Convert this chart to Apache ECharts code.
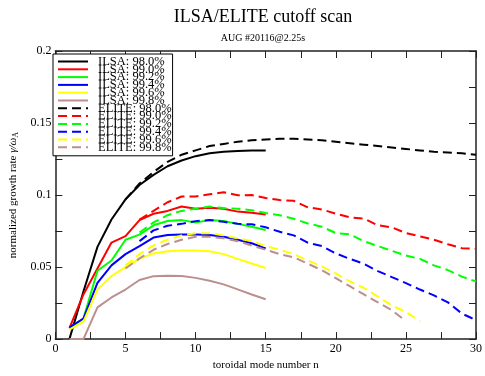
<!DOCTYPE html>
<html><head><meta charset="utf-8">
<script src="https://cdn.jsdelivr.net/npm/echarts@6/dist/echarts.min.js"></script>
<style>html,body{margin:0;padding:0;background:#fff}#c{width:485px;height:376px}</style>
</head><body><div id="c"></div>
<script>
// toroidal mode numbers
var nILSA = [1,2,3,4,5,6,7,8,9,10,11,12,13,14,15];
var nELITE = [5,6,7,8,9,10,11,12,13,14,15,16,17,18,19,20,21,22,23,24,25,26,27,28,29,30];

// ILSA growth rates (n = 1..15)
var ilsa980 = [0.000,0.033,0.064,0.083,0.097,0.107,0.114,0.120,0.124,0.127,0.129,0.130,0.1305,0.131,0.131];
var ilsa990 = [0.0076,0.031,0.049,0.067,0.0715,0.0826,0.087,0.089,0.092,0.0905,0.0912,0.0905,0.0885,0.0877,0.0865];
var ilsa992 = [0.0072,0.0143,0.0474,0.0546,0.069,0.0725,0.079,0.082,0.0826,0.081,0.0826,0.082,0.080,0.078,0.0758];
var ilsa994 = [0.0081,0.0143,0.039,0.0512,0.059,0.0646,0.0705,0.0722,0.0726,0.0726,0.0722,0.071,0.069,0.0665,0.063];
var ilsa996 = [0.0065,0.0121,0.0345,0.0438,0.050,0.0557,0.0595,0.061,0.0615,0.0615,0.061,0.059,0.0557,0.0525,0.0494];
var ilsa998 = [0.000,0.000,0.022,0.0289,0.0344,0.041,0.0437,0.044,0.0438,0.0425,0.0405,0.038,0.0345,0.031,0.0277];

// ELITE growth rates (n = 5..30)
var elite980 = [0.097,0.108,0.116,0.123,0.128,0.131,0.134,0.1355,0.137,0.138,0.1385,0.139,0.139,0.1385,0.138,0.137,0.136,0.135,0.134,0.133,0.132,0.131,0.130,0.1295,0.129,0.128];
var elite990 = [null,0.083,0.089,0.095,0.099,0.099,0.1005,0.102,0.0998,0.100,0.098,0.0965,0.096,0.0915,0.090,0.087,0.0845,0.0837,0.079,0.0776,0.0736,0.0713,0.069,0.0658,0.0631,0.0626];
var elite992 = [null,0.074,0.081,0.086,0.089,0.0905,0.092,0.091,0.0905,0.0895,0.0875,0.086,0.0835,0.0803,0.078,0.0736,0.0727,0.068,0.0646,0.0613,0.058,0.0557,0.0512,0.0479,0.0434,0.040];
var elite994 = [null,0.068,0.0755,0.0787,0.080,0.0819,0.0826,0.0814,0.080,0.0797,0.0776,0.0745,0.072,0.0669,0.0646,0.0595,0.0557,0.0523,0.0472,0.043,0.0389,0.0344,0.0304,0.0255,0.0177,0.0132];
var elite996 = [0.051,0.059,0.065,0.069,0.072,0.0735,0.0735,0.072,0.070,0.068,0.0645,0.062,0.059,0.0546,0.0505,0.0456,0.040,0.0356,0.0295,0.0233,0.0188,0.0125,null,null,null,null];
var elite998 = [0.049,0.056,0.062,0.066,0.069,0.071,0.071,0.070,0.068,0.065,0.062,0.059,0.0568,0.0523,0.0479,0.0423,0.0367,0.0311,0.0255,0.020,0.0125,null,null,null,null,null];

var seriesNames = ['ILSA: 98.0%','ILSA: 99.0%','ILSA: 99.2%','ILSA: 99.4%','ILSA: 99.6%','ILSA: 99.8%',
                   'ELITE: 98.0%','ELITE: 99.0%','ELITE: 99.2%','ELITE: 99.4%','ELITE: 99.6%','ELITE: 99.8%'];
var colors = ['#000000','#ff0000','#00ff00','#0000ff','#ffff00','#bc8f8f'];
var ilsaData = [ilsa980, ilsa990, ilsa992, ilsa994, ilsa996, ilsa998];
var eliteData = [elite980, elite990, elite992, elite994, elite996, elite998];

var FONT = '"Liberation Serif", "DejaVu Serif", serif';

function pairs(xs, ys){ return xs.map(function(x,i){ return [x, ys[i]]; }); }

var series = [];
ilsaData.forEach(function(d,i){
  series.push({name: seriesNames[i], type:'line', data: pairs(nILSA, d), symbol:'none', showSymbol:false,
    connectNulls:false, animation:false, color: colors[i],
    lineStyle:{color: colors[i], width:2, type:'solid'}});
});
eliteData.forEach(function(d,i){
  series.push({name: seriesNames[6+i], type:'line', data: pairs(nELITE, d), symbol:'none', showSymbol:false,
    connectNulls:false, animation:false, color: colors[i],
    lineStyle:{color: colors[i], width:2, type:[9,5]}});
});

var axisLineStyle = {color:'#222', width:1.5};
function xLabel(v){ return (Math.abs(v % 5) < 1e-9) ? String(v) : ''; }
function yLabel(v){ var k = Math.round(v*1000); return (k % 50 === 0) ? String(+(v.toFixed(3))) : ''; }

var chart = echarts.init(document.getElementById('c'), null, {renderer:'canvas'});
chart.setOption({
  animation:false,
  backgroundColor:'#fff',
  title:{
    text:'ILSA/ELITE cutoff scan', subtext:'AUG #20116@2.25s',
    left:258, top:3, textAlign:'center', itemGap:7,
    textStyle:{fontFamily:FONT, fontSize:18, fontWeight:'normal', color:'#000'},
    subtextStyle:{fontFamily:FONT, fontSize:10, color:'#000'}
  },
  legend:{
    data: seriesNames, orient:'vertical', left:53, top:54,
    itemWidth:30, itemHeight:8, itemGap:-5.2,
    padding:[1,1,2,4],
    borderColor:'#000', borderWidth:1, backgroundColor:'#fff',
    selectedMode:false,
    itemStyle:{opacity:0},
    textStyle:{fontFamily:FONT, fontSize:12.5, color:'#000', padding:[0,0,0,5]}
  },
  grid:{left:48, right:7, top:51, bottom:28, containLabel:false},
  xAxis:[{
    type:'value', min:0, max:30, interval:2.5, position:'bottom',
    name:'toroidal mode number n', nameLocation:'middle', nameGap:17,
    nameTextStyle:{fontFamily:FONT, fontSize:11, color:'#000'},
    axisLine:{show:true, onZero:false, lineStyle:axisLineStyle},
    axisTick:{show:true, inside:true, length:7, lineStyle:{color:'#222', width:1}},
    axisLabel:{formatter:xLabel, fontFamily:FONT, fontSize:12, color:'#000', margin:4, showMinLabel:true, showMaxLabel:true},
    splitLine:{show:false}
  },{
    type:'value', min:0, max:30, interval:2.5, position:'top',
    axisLine:{show:true, onZero:false, lineStyle:axisLineStyle},
    axisTick:{show:true, inside:true, length:7, lineStyle:{color:'#222', width:1}},
    axisLabel:{show:false}, splitLine:{show:false}
  }],
  yAxis:[{
    type:'value', min:0, max:0.2, interval:0.025, position:'left',
    name:'normalized growth rate {g|γ/ω}{s|A}', nameLocation:'middle', nameGap:33,
    nameTextStyle:{fontFamily:FONT, fontSize:11, color:'#000',
      rich:{g:{fontFamily:FONT, fontSize:11, fontStyle:'italic', color:'#000'},
            s:{fontFamily:FONT, fontSize:8, color:'#000', verticalAlign:'bottom', padding:[4,0,0,0]}}},
    axisLine:{show:true, onZero:false, lineStyle:axisLineStyle},
    axisTick:{show:true, inside:true, length:7, lineStyle:{color:'#222', width:1}},
    axisLabel:{formatter:yLabel, fontFamily:FONT, fontSize:12, color:'#000', margin:4, showMinLabel:true, showMaxLabel:true},
    splitLine:{show:false}
  },{
    type:'value', min:0, max:0.2, interval:0.025, position:'right',
    axisLine:{show:true, onZero:false, lineStyle:axisLineStyle},
    axisTick:{show:true, inside:true, length:7, lineStyle:{color:'#222', width:1}},
    axisLabel:{show:false}, splitLine:{show:false}
  }],
  series: series
});
</script></body></html>
